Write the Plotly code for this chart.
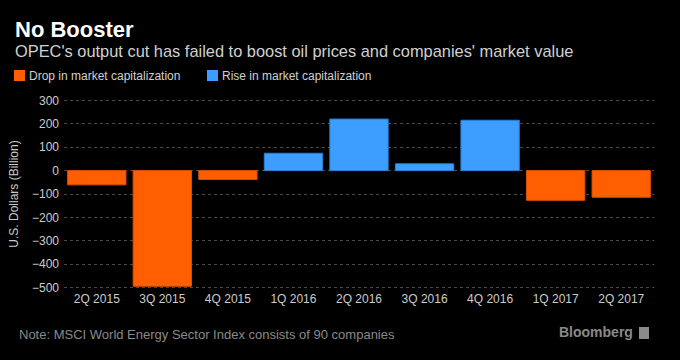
import plotly.graph_objects as go

quarters = ["2Q 2015", "3Q 2015", "4Q 2015", "1Q 2016", "2Q 2016",
            "3Q 2016", "4Q 2016", "1Q 2017", "2Q 2017"]
change_bn = [-61, -494, -38, 74, 220, 29, 215, -127, -114]

drop_vals = [v if v < 0 else None for v in change_bn]
rise_vals = [v if v >= 0 else None for v in change_bn]

ORANGE = "#FF5F00"
BLUE = "#3D9EFF"
W, H = 680, 360
ML, MR, MT, MB = 64, 26, 98, 70
PW, PH = W - ML - MR, H - MT - MB
FONT = "Liberation Sans"


def px(x):
    return (x - ML) / PW


def py(y):
    return 1 - (y - MT) / PH


fig = go.Figure()
fig.add_trace(go.Bar(x=quarters, y=drop_vals, name="Drop in market capitalization",
                     marker=dict(color=ORANGE, line=dict(color="#D94F00", width=1))))
fig.add_trace(go.Bar(x=quarters, y=rise_vals, name="Rise in market capitalization",
                     marker=dict(color=BLUE, line=dict(color="#2A7FD4", width=1))))

shapes = [
    dict(type="rect", xref="paper", yref="paper", x0=px(14), x1=px(25), y0=py(81), y1=py(70),
         fillcolor=ORANGE, line=dict(width=0)),
    dict(type="rect", xref="paper", yref="paper", x0=px(207), x1=px(218), y0=py(81), y1=py(70),
         fillcolor=BLUE, line=dict(width=0)),
    dict(type="rect", xref="paper", yref="paper", x0=px(639), x1=px(649), y0=py(339), y1=py(327),
         fillcolor="#8a8a8a", line=dict(width=0)),
]

annotations = [
    dict(text="<b>No Booster</b>", x=px(13), y=py(30), xref="paper", yref="paper",
         xanchor="left", yanchor="middle", showarrow=False,
         font=dict(family=FONT, size=22, color="#FFFFFF")),
    dict(text="OPEC's output cut has failed to boost oil prices and companies' market value",
         x=px(13), y=py(51), xref="paper", yref="paper", xanchor="left", yanchor="middle",
         showarrow=False, font=dict(family=FONT, size=16.4, color="#D0D0D0")),
    dict(text="Drop in market capitalization", x=px(27), y=py(76), xref="paper", yref="paper",
         xanchor="left", yanchor="middle", showarrow=False,
         font=dict(family=FONT, size=12, color="#D0D0D0")),
    dict(text="Rise in market capitalization", x=px(220), y=py(76), xref="paper", yref="paper",
         xanchor="left", yanchor="middle", showarrow=False,
         font=dict(family=FONT, size=12, color="#D0D0D0")),
    dict(text="Note: MSCI World Energy Sector Index consists of 90 companies",
         x=px(17), y=py(334), xref="paper", yref="paper", xanchor="left", yanchor="middle",
         showarrow=False, font=dict(family=FONT, size=13, color="#8A8A8A")),
    dict(text="<b>Bloomberg</b>", x=px(635), y=py(332), xref="paper", yref="paper",
         xanchor="right", yanchor="middle", showarrow=False,
         font=dict(family=FONT, size=14, color="#8A8A8A")),
]

fig.update_layout(
    width=W, height=H,
    paper_bgcolor="#000000", plot_bgcolor="#000000",
    margin=dict(l=ML, r=MR, t=MT, b=MB),
    barmode="relative", bargap=0.11,
    showlegend=False,
    font=dict(family=FONT, size=12, color="#CCCCCC"),
    shapes=shapes, annotations=annotations,
    xaxis=dict(showgrid=False, showline=False, zeroline=False, ticks="",
               tickfont=dict(size=12, color="#CCCCCC"), tickangle=0),
    yaxis=dict(range=[-510, 310], tickvals=[300, 200, 100, 0, -100, -200, -300, -400, -500],
               showgrid=True, gridcolor="#4A4A4A", griddash="dot", gridwidth=1,
               zeroline=False, showline=False, ticks="",
               tickfont=dict(size=12, color="#CCCCCC"), ticklabelstandoff=4,
               title=dict(text="U.S. Dollars (Billion)", standoff=10,
                          font=dict(size=12, color="#CCCCCC"))),
)

fig.write_html(
    "out.html",
    config={"displayModeBar": False},
    post_script="document.body.style.margin='0';document.body.style.background='#000';",
)
